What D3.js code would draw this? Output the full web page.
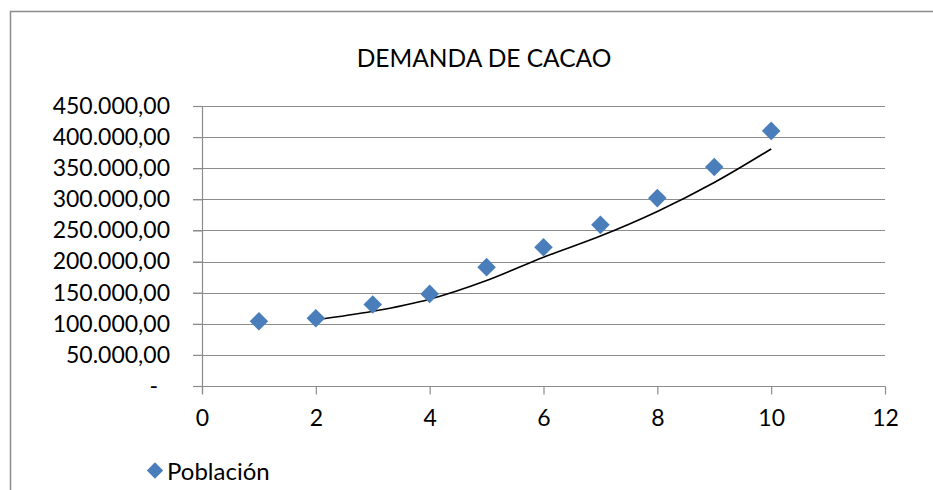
<!DOCTYPE html>
<html><head><meta charset="utf-8">
<script src="https://cdn.jsdelivr.net/npm/d3@7"></script>
<style>body{margin:0;background:#fff}svg{display:block}text{font-family:Lato,"Open Sans",sans-serif;fill:#000}</style>
</head><body>
<svg id="c" width="933" height="490"></svg>
<script>
const title = "DEMANDA DE CACAO";
const seriesName = "Población";
const xValues = [1,2,3,4,5,6,7,8,9,10];
const yValues = [104000,109000,131000,148000,191000,223000,259000,302000,352000,410000];
const xTicks = [0,2,4,6,8,10,12];
const yTicks = [0,50000,100000,150000,200000,250000,300000,350000,400000,450000];
const trendPeriod = 2;

const svg = d3.select("#c");
const x = d3.scaleLinear().domain([0,12]).range([202,885]);
const y = d3.scaleLinear().domain([0,450000]).range([386,106]);
const grey = "#8c8c8c";

// frame
svg.append("path").attr("d","M10.5,490 V11.5 H933").attr("fill","none").attr("stroke",grey).attr("stroke-width",1.5);

// title
svg.append("text").attr("x",484).attr("y",67).attr("text-anchor","middle").style("font-size","24.5px").text(title);

// gridlines
svg.append("g").selectAll("line").data(yTicks.filter(d=>d>0)).join("line")
  .attr("x1",193).attr("x2",885).attr("y1",d=>Math.round(y(d))+0.5).attr("y2",d=>Math.round(y(d))+0.5)
  .attr("stroke",grey).attr("stroke-width",1.2);

const fmt = d => d===0 ? "-" : d3.format(",.2f")(d).replace(/,/g,"#").replace(/\./g,",").replace(/#/g,".");

// y axis
const ya = svg.append("g").attr("transform","translate(202,0)")
  .call(d3.axisLeft(y).tickValues(yTicks).tickSize(9).tickPadding(23).tickFormat(fmt));
ya.selectAll("line,path").attr("stroke",grey).attr("stroke-width",1.2);
ya.select(".domain").attr("d","M0.5,106V394");
ya.selectAll("text").style("font-size","23px").style("font-family","Lato, sans-serif").attr("fill","#000");
ya.selectAll(".tick").filter(d=>d===0).select("text").attr("dx",-12);

// x axis
const xa = svg.append("g").attr("transform","translate(0,386.5)")
  .call(d3.axisBottom(x).tickValues(xTicks).tickSize(8).tickPadding(15));
xa.selectAll("line,path").attr("stroke",grey).attr("stroke-width",1.2);
xa.select(".domain").attr("d","M193,0H885.5");
xa.selectAll("text").style("font-size","23px").style("font-family","Lato, sans-serif").attr("fill","#000");

// moving-average trendline
const trend = [];
for (let i = trendPeriod-1; i < xValues.length; i++) {
  trend.push([xValues[i], d3.mean(yValues.slice(i-trendPeriod+1, i+1))]);
}
svg.append("path").datum(trend)
  .attr("d", d3.line().x(d=>x(d[0])).y(d=>y(d[1])).curve(d3.curveMonotoneX))
  .attr("fill","none").attr("stroke","#000").attr("stroke-width",1.6);

// markers
const diamond = d3.symbol().type(d3.symbolDiamond2).size(220);
svg.append("g").selectAll("path").data(xValues.map((v,i)=>[v,yValues[i]])).join("path")
  .attr("transform",d=>`translate(${x(d[0])},${y(d[1])})`)
  .attr("d",diamond).attr("fill","#4a7ebb");

// legend
const lg = svg.append("g");
lg.append("path").attr("transform","translate(155,470.5)").attr("d",d3.symbol().type(d3.symbolDiamond2).size(170)).attr("fill","#4a7ebb");
lg.append("text").attr("x",167).attr("y",480).style("font-size","24px").text(seriesName);
</script>
</body></html>
